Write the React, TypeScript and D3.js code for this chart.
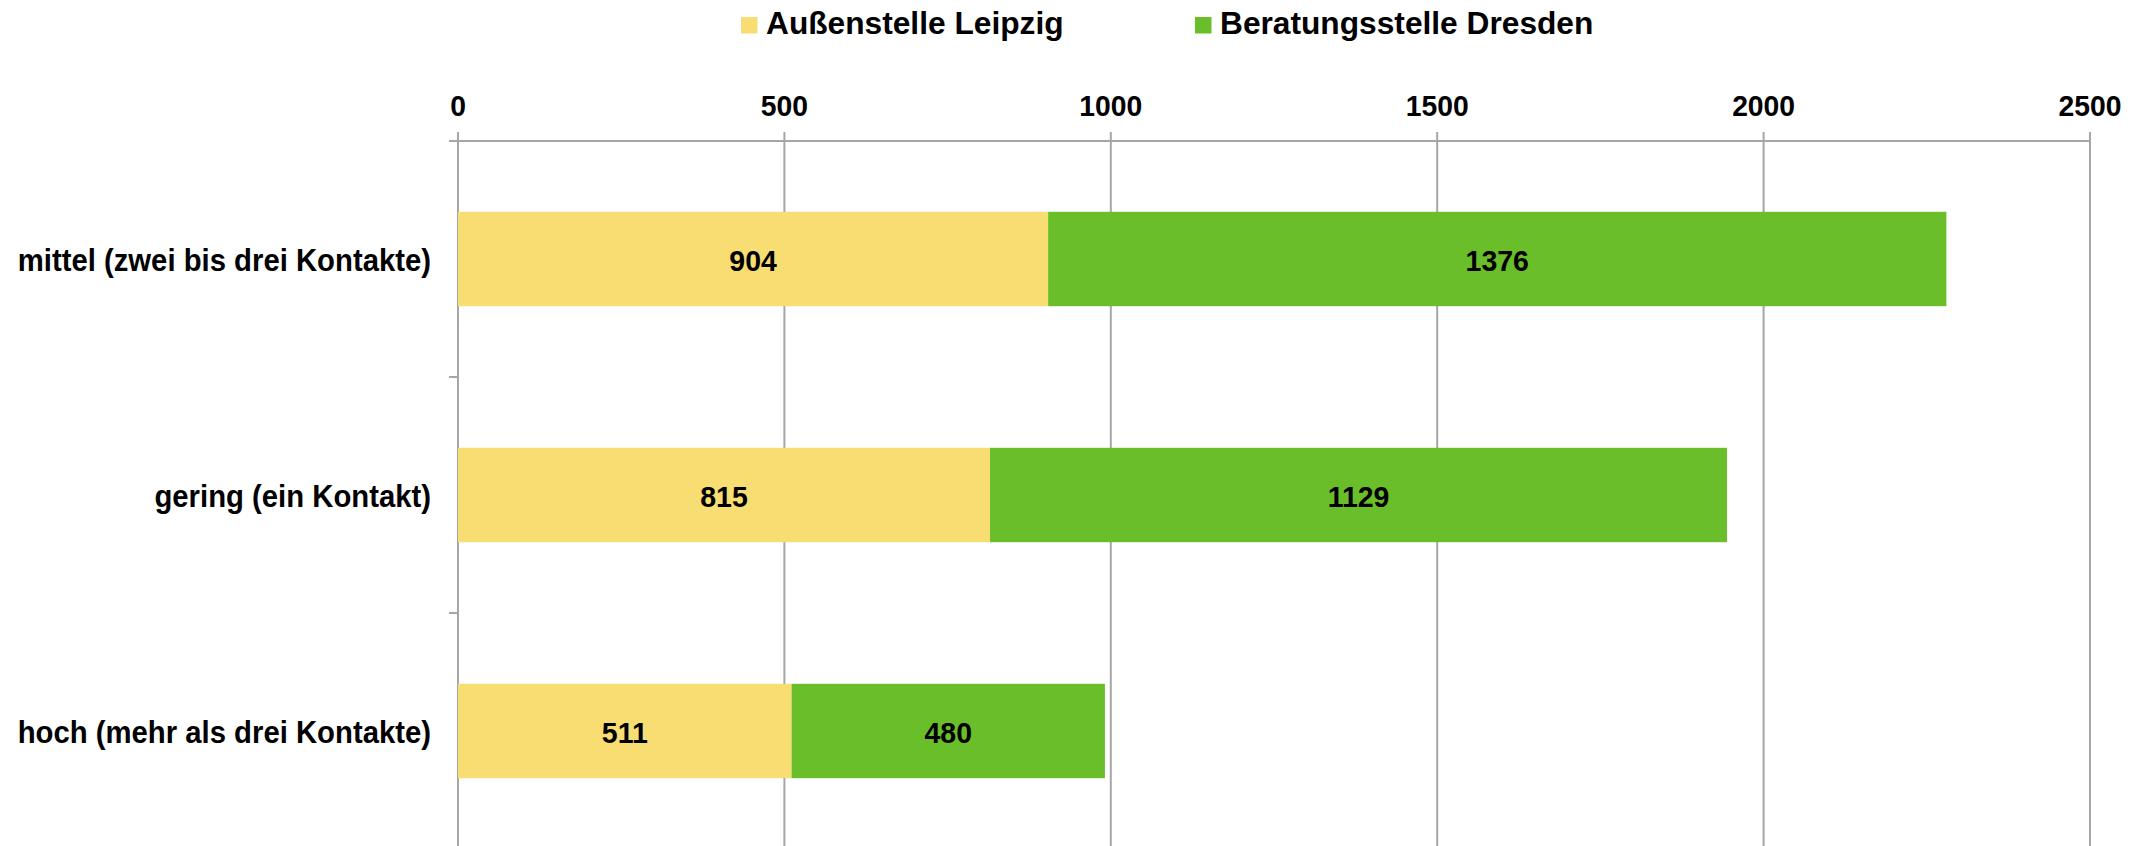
import React from "react";
import * as d3 from "d3";

const categories = [
  "mittel (zwei bis drei Kontakte)",
  "gering (ein Kontakt)",
  "hoch (mehr als drei Kontakte)",
];
const seriesNames = ["Außenstelle Leipzig", "Beratungsstelle Dresden"];
const leipzig = [904, 815, 511];
const dresden = [1376, 1129, 480];
const xTicks = [0, 500, 1000, 1500, 2000, 2500];
const colors = ["#F7DD72", "#6ABE29"];

const W = 2152;
const H = 846;
const FONT = "'Liberation Sans', Arial, sans-serif";

function T(props: {
  x: number;
  y: number;
  size: number;
  sy?: number;
  anchor?: "start" | "middle" | "end";
  children: React.ReactNode;
}) {
  const { x, y, size, sy = 1, anchor = "start", children } = props;
  return (
    <text
      transform={`translate(${x},${y}) scale(1,${sy})`}
      textAnchor={anchor}
      fontFamily={FONT}
      fontWeight="bold"
      fontSize={size}
      fill="#000"
    >
      {children}
    </text>
  );
}

export default function App() {
  const x = d3.scaleLinear().domain([0, 2500]).range([458, 2090]);
  const y = d3
    .scaleBand<string>()
    .domain(categories)
    .range([141, 849])
    .paddingInner(0.6)
    .paddingOuter(0.3);
  const bandStep = y.step();
  const rows = categories.map((c, i) => ({ c, vals: [leipzig[i], dresden[i]] }));
  const stack = d3
    .stack<any>()
    .keys(["0", "1"])
    .value((d: any, k: string) => d.vals[+k])(rows);
  const axisY = 141;
  const grid = "#A6A6A6";
  const catTicks = categories.map((c) => (y(c) as number) - (bandStep - y.bandwidth()) / 2);

  return (
    <div style={{ position: "fixed", left: 0, top: 0 }}>
      <svg width={W} height={H} style={{ display: "block", background: "#fff" }}>
        {xTicks.map((t) => (
          <line key={"g" + t} x1={x(t)} x2={x(t)} y1={132} y2={H} stroke={grid} strokeWidth={2} />
        ))}
        <line x1={449} x2={x(2500)} y1={axisY} y2={axisY} stroke={grid} strokeWidth={2} />
        {catTicks.map((t, i) => (
          <line key={"ct" + i} x1={449} x2={x(0)} y1={t} y2={t} stroke={grid} strokeWidth={2} />
        ))}
        {xTicks.map((t) => (
          <T key={"tl" + t} x={x(t)} y={116} size={28.3} sy={1.04} anchor="middle">
            {t}
          </T>
        ))}
        {stack.map((s, si) =>
          s.map((d, i) => {
            const y0 = y(categories[i]) as number;
            const x0 = x(d[0]);
            const x1 = x(d[1]);
            return (
              <g key={"b" + si + "-" + i}>
                <rect x={x0} y={y0} width={x1 - x0} height={y.bandwidth()} fill={colors[si]} />
                <T x={(x0 + x1) / 2} y={y0 + y.bandwidth() / 2 + 11.5} size={28.5} sy={1.04} anchor="middle">
                  {d[1] - d[0]}
                </T>
              </g>
            );
          })
        )}
        {categories.map((c) => (
          <T key={"cl" + c} x={431} y={(y(c) as number) + y.bandwidth() / 2 + 12} size={29.3} sy={1.1} anchor="end">
            {c}
          </T>
        ))}
        {seriesNames.map((n, i) => {
          const lx = [741, 1195][i];
          return (
            <g key={"lg" + i}>
              <rect x={lx} y={17} width={16.5} height={16.5} fill={colors[i]} />
              <T x={lx + 25} y={34} size={31.7}>
                {n}
              </T>
            </g>
          );
        })}
      </svg>
    </div>
  );
}
